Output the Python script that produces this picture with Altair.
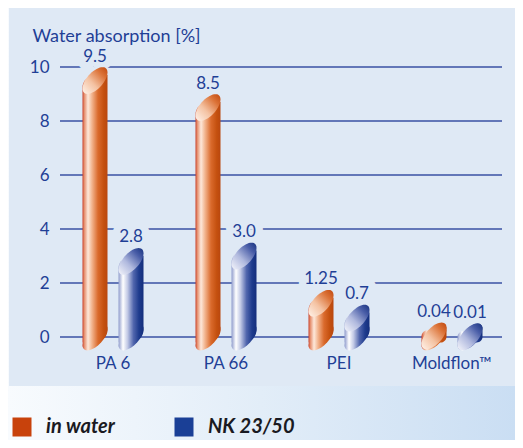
import math
import pandas as pd
import altair as alt

# ---------------- data ----------------
categories = ["PA 6", "PA 66", "PEI", "Moldflon™"]
in_water = [9.5, 8.5, 1.25, 0.04]
nk_23_50 = [2.8, 3.0, 0.7, 0.01]
in_water_labels = ["9.5", "8.5", "1.25", "0.04"]
nk_labels = ["2.8", "3.0", "0.7", "0.01"]
series_names = ["in water", "NK 23/50"]
y_ticks = [0, 2, 4, 6, 8, 10]

rows = []
for cat, v, lab in zip(categories, in_water, in_water_labels):
    rows.append({"material": cat, "series": "in water", "value": v, "label": lab, "zero": 0})
for cat, v, lab in zip(categories, nk_23_50, nk_labels):
    rows.append({"material": cat, "series": "NK 23/50", "value": v, "label": lab, "zero": 0})
df = pd.DataFrame(rows)
ticks_df = pd.DataFrame({"value": y_ticks})
one = pd.DataFrame({"k": [0]})

# ---------------- style ----------------
FONT = "Lato"
TEXT_BLUE = "#1f3f96"
GRID_BLUE = "#3a51a3"
PANEL = "#dfe9f5"
W, H = 442, 270
PAD = {"left": 52, "top": 59, "right": 13, "bottom": 103}

# slanted ellipse (cylinder cut) as a symbol path in [-1, 1] units
S, B = 0.65, 0.85
N = 48
pts = []
for i in range(N):
    t = 2 * math.pi * i / N
    pts.append((math.cos(t), -S * math.cos(t) + B * math.sin(t)))
ELLIPSE = "M" + "L".join(f"{x:.4f},{y:.4f}" for x, y in pts) + "Z"


def grad(stops, x1=0, y1=0, x2=1, y2=0):
    return alt.LinearGradient(
        gradient="linear",
        stops=[alt.GradientStop(offset=o, color=c) for o, c in stops],
        x1=x1, y1=y1, x2=x2, y2=y2,
    )


STYLE = {
    "in water": {
        "dx": -18,
        "body": grad([(0, "#c8402a"), (0.07, "#e58d6c"), (0.22, "#fde8da"),
                      (0.38, "#f2b48e"), (0.62, "#da6a2c"), (0.85, "#c4500f"),
                      (1, "#b9470f")]),
        "cap": grad([(0, "#fff3ea"), (0.4, "#f4c2a2"), (0.75, "#dc7338"),
                     (1, "#c0480e")], x1=0, y1=1, x2=1, y2=0),
    },
    "NK 23/50": {
        "dx": 18,
        "body": grad([(0, "#8f9bcc"), (0.18, "#ffffff"), (0.36, "#c3cae6"),
                      (0.6, "#5166ad"), (0.82, "#1e3b8d"), (1, "#142e7c")]),
        "cap": grad([(0, "#f4f5fb"), (0.4, "#b0b9de"), (0.75, "#4a5ea8"),
                     (1, "#17327f")], x1=0, y1=1, x2=1, y2=0),
    },
}

x_scale = alt.Scale(domain=categories, range=[-3.5, W + 6.5], paddingInner=0, paddingOuter=0)
y_scale = alt.Scale(domain=[0, 10], nice=False)

x_axis = alt.Axis(domain=False, ticks=False, grid=False, labelAngle=0, labelPadding=18,
                  labelFontSize=17, labelFont=FONT, labelColor=TEXT_BLUE, title=None,
                  zindex=2)
y_axis = alt.Axis(values=y_ticks, grid=False, domain=False, ticks=False,
                  labelFontSize=17, labelFont=FONT, labelColor=TEXT_BLUE, labelPadding=11,
                  title="Water absorption [%]", titleAngle=0, titleX=-28, titleY=-26,
                  titleAlign="left", titleBaseline="alphabetic", titleFontSize=18,
                  titleFontWeight="normal", titleFont=FONT, titleColor=TEXT_BLUE,
                  zindex=2)

X = alt.X("material:N", sort=categories, scale=x_scale, axis=x_axis)
Y = alt.Y("value:Q", scale=y_scale, axis=y_axis)
Y0 = alt.Y("zero:Q", scale=y_scale, axis=y_axis)

# ---------------- background ----------------
outer = alt.Chart(one).mark_rect(
    fill=grad([(0, "#f8fbfe"), (0.5, "#e2edf8"), (1, "#cadef3")])
).encode(x=alt.value(-PAD["left"]), x2=alt.value(W + PAD["right"]),
         y=alt.value(-PAD["top"]), y2=alt.value(H + PAD["bottom"]))

panel = alt.Chart(one).mark_rect(fill=PANEL).encode(
    x=alt.value(-PAD["left"] + 1), x2=alt.value(W + PAD["right"]),
    y=alt.value(-PAD["top"]), y2=alt.value(H + 49))

grid = alt.Chart(ticks_df).mark_rule(color=GRID_BLUE, strokeWidth=1.6).encode(
    y=Y, x=alt.value(0), x2=alt.value(W))

# legend carrier (invisible marks)
carrier = alt.Chart(df).mark_square(opacity=0, size=1).encode(
    x=X, y=Y,
    color=alt.Color("series:N", scale=alt.Scale(domain=series_names,
                                                range=["#c8420c", "#1a3f96"]),
                    legend=alt.Legend(orient="none", legendX=-48, legendY=350,
                                      direction="horizontal", title=None,
                                      symbolType="square", symbolSize=361,
                                      symbolOpacity=1, symbolStrokeWidth=0,
                                      labelFontSize=20, labelFont=FONT,
                                      labelFontStyle="italic", labelFontWeight="bold",
                                      labelColor="#1a1a22",
                                      labelOffset=14, columnPadding=59, labelLimit=300,
                                      zindex=2)),
)

layers = [outer, panel, grid, carrier]

# label backgrounds (gap in gridlines)
for name in series_names:
    st = STYLE[name]
    layers.append(
        alt.Chart(df).transform_filter(alt.datum.series == name).mark_text(
            font=FONT, fontSize=17, baseline="alphabetic", dy=-19, xOffset=st["dx"],
            fill=PANEL, stroke=PANEL, strokeWidth=15, strokeJoin="round",
        ).encode(x=X, y=Y, text="label:N")
    )

for name in series_names:
    st = STYLE[name]
    base = alt.Chart(df).transform_filter(alt.datum.series == name)
    bottom_cap = base.mark_point(
        shape=ELLIPSE, size=625, filled=True, opacity=1, strokeWidth=0,
        fill=st["body"], xOffset=st["dx"],
    ).encode(x=X, y=Y0)
    body = base.mark_bar(
        width=25, xOffset=st["dx"], yOffset=-5.6, y2Offset=5.6,
        cornerRadiusTopLeft=12.5, cornerRadiusBottomRight=12.5, fill=st["body"],
    ).encode(x=X, y=Y, y2="zero:Q")
    top_cap = base.mark_point(
        shape=ELLIPSE, size=625, filled=True, opacity=1, strokeWidth=0,
        fill=st["cap"], xOffset=st["dx"],
    ).encode(x=X, y=Y)
    layers += [bottom_cap, body, top_cap]

for name in series_names:
    st = STYLE[name]
    layers.append(
        alt.Chart(df).transform_filter(alt.datum.series == name).mark_text(
            font=FONT, fontSize=17, baseline="alphabetic", dy=-19, xOffset=st["dx"],
            color=TEXT_BLUE,
        ).encode(x=X, y=Y, text="label:N")
    )

chart = alt.layer(*layers).properties(
    width=W, height=H, padding=PAD,
    autosize=alt.AutoSizeParams(type="none"),
).configure_view(strokeWidth=0).configure(background="#ffffff")

chart.save("out.html", embed_options={"renderer": "svg", "actions": False})
